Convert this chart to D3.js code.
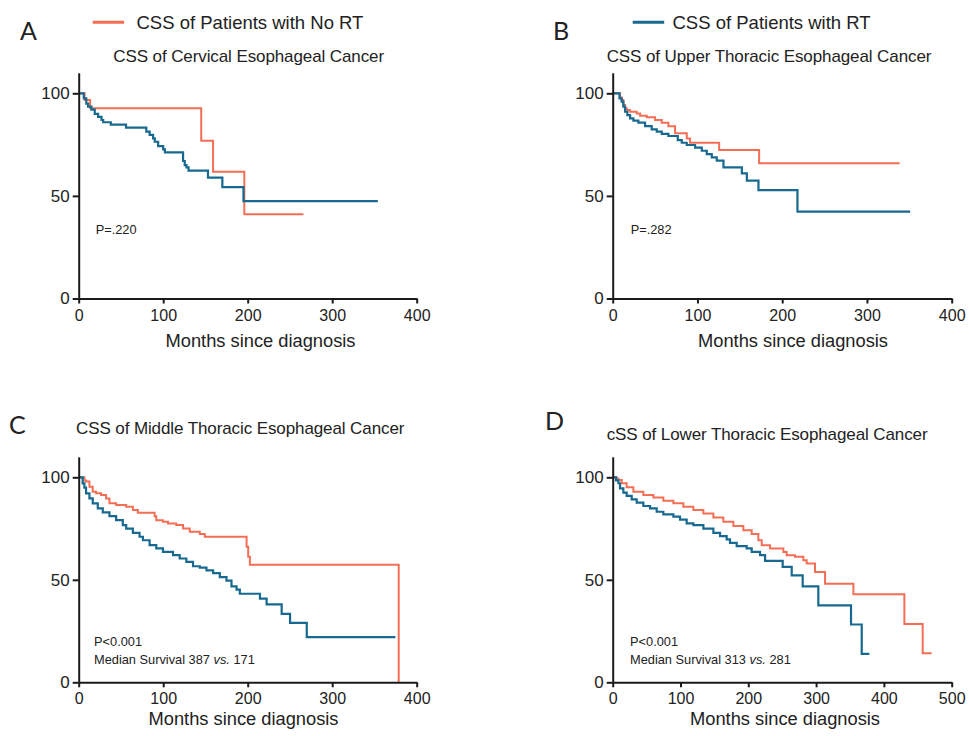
<!DOCTYPE html>
<html>
<head>
<meta charset="utf-8">
<script src="https://cdn.jsdelivr.net/npm/d3@7"></script>
<style>
  html, body { margin: 0; padding: 0; background: #fff; }
  svg { display: block; }
  text { font-family: "Liberation Sans", Arial, Helvetica, sans-serif; fill: #222; }
</style>
</head>
<body>
<svg id="chart" width="969" height="736"></svg>
<script>
// ---------------- DATA ----------------
const seriesNames = ["CSS of Patients with No RT", "CSS of Patients with RT"];
const panelLetters = ["A", "B", "C", "D"];
const panelTitles = [
  "CSS of Cervical Esophageal Cancer",
  "CSS of Upper Thoracic Esophageal Cancer",
  "CSS of Middle Thoracic Esophageal Cancer",
  "cSS of Lower Thoracic Esophageal Cancer"
];
const pValues = ["P=.220", "P=.282", "P<0.001", "P<0.001"];
const medianNoRT = [null, null, 387, 313];
const medianRT = [null, null, 171, 281];
const yTicks = [0, 50, 100];
const xTicksAC = [0, 100, 200, 300, 400];
const xTicksD = [0, 100, 200, 300, 400, 500];
const xLabel = "Months since diagnosis";

// Panel A
const aNoRtMonths = [0, 7, 13.5, 145, 159, 196, 266];
const aNoRtSurv   = [100, 96.7, 92.7, 76.9, 61.8, 41, 41];
const aRtMonths = [0, 6, 9, 11, 15, 19, 23, 27, 29, 38, 56, 80, 84, 88, 90, 94, 100, 102, 123.5, 125.5, 127.5, 130, 153, 170, 195, 354];
const aRtSurv   = [100, 97.5, 95, 93.5, 92, 90, 88.5, 87, 85.9, 84.7, 83.3, 81.3, 79.7, 78, 76.4, 74.3, 72.7, 71.2, 67, 65, 63.9, 62.3, 58.9, 54.3, 47.5, 47.5];

// Panel B
const bNoRtMonths = [0, 8.7, 10.6, 12.6, 14.6, 16.5, 20.5, 28.3, 32.3, 40.2, 50, 57.9, 65.7, 73.6, 87.4, 91.3, 125.6, 172.8, 338.6];
const bNoRtSurv   = [100, 98, 96.7, 94.3, 92.7, 91.9, 91, 90.2, 89, 88.3, 87, 85.7, 84, 80.5, 78, 75.9, 72.4, 65.9, 65.9];
const bRtMonths = [0, 8, 10.6, 12.6, 14.6, 17.3, 20.5, 24.4, 30.3, 38.2, 46, 52, 57.9, 65.7, 76.8, 81.5, 87.4, 97.2, 105.1, 111, 116.9, 122.8, 130.7, 152.4, 158.3, 172, 218, 351];
const bRtSurv   = [100, 97.5, 95.9, 93.5, 91, 89.4, 87.8, 86.7, 85.7, 84, 82.4, 81.3, 80.2, 79.2, 77.2, 75.9, 74.8, 73.5, 72, 70.4, 68.8, 67.2, 63.9, 61, 57.4, 52.8, 42.3, 42.3];

// Panel C
const cNoRtMonths = [0, 6.7, 8.7, 12.7, 16.6, 20.6, 26.5, 32.4, 36.4, 44.3, 56.2, 64.1, 70, 89.8, 91.8, 99.7, 105.7, 115.5, 123.5, 131.4, 143.3, 149.2, 198.7, 200.6, 202.6, 378.7, 378.7];
const cNoRtSurv   = [100, 98.5, 97.9, 95.4, 93, 92.2, 91.4, 89.7, 87.3, 86.5, 85.6, 84, 82.7, 81, 79.1, 78.3, 77.5, 76.7, 75, 73.4, 72.3, 71, 66.1, 61.2, 57.4, 57.4, 0];
const cRtMonths = [0, 4.7, 6.7, 8.7, 12.7, 16.6, 22.6, 28.5, 36.4, 44.3, 52.2, 56.2, 64.1, 72, 76, 83.9, 91.8, 99.7, 111.6, 119.5, 127.4, 135.3, 143.3, 151.2, 159.1, 167, 174.9, 180.8, 186.8, 190.7, 214.5, 222.4, 240.2, 250.1, 269.9, 374.8];
const cRtSurv   = [100, 97, 95, 92.2, 89.7, 87.3, 84.8, 82.9, 81.1, 79.1, 76.7, 75, 72.9, 71, 69.3, 66.9, 65.3, 63.6, 62, 60.4, 58.7, 56.6, 55.9, 54.6, 53.3, 51.3, 49.6, 46.8, 45.2, 43.2, 40.8, 38, 33.4, 29, 22, 22];

// Panel D
const dNoRtMonths = [0, 5.9, 8.4, 13.3, 20.6, 30.5, 45.2, 60, 74.7, 89.5, 104.2, 118.9, 133.7, 148.5, 163.2, 178, 192.7, 205, 214.8, 219.8, 232.1, 251.7, 256.6, 268.9, 281.2, 286.1, 298.4, 313.2, 355, 430.2, 457.2, 470.5];
const dNoRtSurv   = [100, 99.3, 98.7, 97.1, 95.1, 93, 91.4, 90.2, 88.6, 87.3, 85.6, 84, 82.4, 80.4, 78.3, 76.2, 74.2, 72.3, 69.3, 66.9, 65.3, 63.6, 62, 61.2, 59.5, 57.9, 53.8, 48.1, 42.9, 28.5, 14.2, 14.2];
const dRtMonths = [0, 4.9, 8.4, 10.8, 15.7, 20.6, 28, 35.4, 45.2, 55.1, 64.9, 74.7, 89.5, 99.3, 109.1, 119, 133.7, 148.5, 158.3, 168.1, 173, 182.9, 197.6, 205, 217.3, 224.7, 250.7, 264, 280.2, 303.3, 351.5, 367.3, 378.6];
const dRtSurv   = [100, 98.5, 97.1, 94.6, 92.5, 90.9, 89.2, 87.6, 86, 84.8, 83.2, 81.9, 80.8, 79.4, 77.5, 76.7, 75, 72.9, 71.3, 69.7, 68, 66.4, 65.3, 63.6, 62, 59.2, 56.3, 52.2, 46.8, 37.5, 28.2, 13.9, 13.9];

// ---------------- LAYOUT / STYLE ----------------
const RED = "#F36E55", BLUE = "#17698F";
const zip = (m, s) => m.map((t, i) => ({ t, s: s[i] }));

const panels = [
  { letter: panelLetters[0], title: panelTitles[0], p: pValues[0], mNo: medianNoRT[0], mRt: medianRT[0],
    noRt: zip(aNoRtMonths, aNoRtSurv), rt: zip(aRtMonths, aRtSurv),
    xMax: 400, xTicks: xTicksAC, x0: 78.7, x1: 416.7, yTop: 93.3, yBot: 298.5, tickPad: 6.5,
    letterPos: [20, 39.5], titlePos: [113.3, 61.7], xLabelPos: [260.5, 347], pPos: [95.7, 234] },
  { letter: panelLetters[1], title: panelTitles[1], p: pValues[1], mNo: medianNoRT[1], mRt: medianRT[1],
    noRt: zip(bNoRtMonths, bNoRtSurv), rt: zip(bRtMonths, bRtSurv),
    xMax: 400, xTicks: xTicksAC, x0: 612.7, x1: 951.7, yTop: 93.3, yBot: 298.5, tickPad: 6.5,
    letterPos: [553, 39.5], titlePos: [606.7, 61.7], xLabelPos: [793, 347], pPos: [630.7, 234] },
  { letter: panelLetters[2], title: panelTitles[2], p: pValues[2], mNo: medianNoRT[2], mRt: medianRT[2],
    noRt: zip(cNoRtMonths, cNoRtSurv), rt: zip(cRtMonths, cRtSurv),
    xMax: 400, xTicks: xTicksAC, x0: 78.7, x1: 416.7, yTop: 477.3, yBot: 682.3, tickPad: 5.5,
    letterPos: [9, 433.5], titlePos: [76, 434], xLabelPos: [243.5, 724.5], pPos: [94, 645.7] },
  { letter: panelLetters[3], title: panelTitles[3], p: pValues[3], mNo: medianNoRT[3], mRt: medianRT[3],
    noRt: zip(dNoRtMonths, dNoRtSurv), rt: zip(dRtMonths, dRtSurv),
    xMax: 500, xTicks: xTicksD, x0: 612.7, x1: 951.7, yTop: 477.3, yBot: 682.3, tickPad: 5.5,
    letterPos: [545, 429.5], titlePos: [606.7, 440], xLabelPos: [785, 724.5], pPos: [630, 645.7] }
];

const svg = d3.select("#chart");

// Legend
const legend = [
  { name: seriesNames[0], color: RED, lx: 92.7, tx: 136.5 },
  { name: seriesNames[1], color: BLUE, lx: 632.7, tx: 672.5 }
];
legend.forEach(l => {
  svg.append("line").attr("x1", l.lx).attr("x2", l.lx + 31.5).attr("y1", 22.3).attr("y2", 22.3)
    .attr("stroke", l.color).attr("stroke-width", 3);
  svg.append("text").attr("x", l.tx).attr("y", 29.3).attr("font-size", 18.5).text(l.name);
});

panels.forEach(pn => {
  const g = svg.append("g");
  const x = d3.scaleLinear().domain([0, pn.xMax]).range([pn.x0, pn.x1]);
  const yUnit = (pn.yBot - pn.yTop) / 100;
  const y = d3.scaleLinear().domain([0, 110]).range([pn.yBot, pn.yBot - 110 * yUnit]);

  // panel letter
  g.append("text").attr("x", pn.letterPos[0]).attr("y", pn.letterPos[1])
    .style("font-family", "Lato, 'Open Sans', sans-serif").attr("font-size", 25).text(pn.letter);
  // title
  g.append("text").attr("x", pn.titlePos[0]).attr("y", pn.titlePos[1])
    .attr("font-size", 17).attr("letter-spacing", -0.1).text(pn.title);

  // curves
  const line = d3.line().x(d => x(d.t)).y(d => y(d.s)).curve(d3.curveStepAfter);
  g.append("path").datum(pn.noRt).attr("d", line).attr("fill", "none")
    .attr("stroke", RED).attr("stroke-width", 2);
  g.append("path").datum(pn.rt).attr("d", line).attr("fill", "none")
    .attr("stroke", BLUE).attr("stroke-width", 2.2);

  // axes
  const yAxis = d3.axisLeft(y).tickValues(yTicks).tickSize(6).tickSizeOuter(0).tickPadding(3);
  const ya = g.append("g").attr("transform", `translate(${pn.x0},0)`).call(yAxis);
  const xAxis = d3.axisBottom(x).tickValues(pn.xTicks).tickSize(5).tickSizeOuter(0).tickPadding(pn.tickPad);
  const xa = g.append("g").attr("transform", `translate(0,${pn.yBot})`).call(xAxis);
  [ya, xa].forEach(a => {
    a.select(".domain").attr("stroke", "#1a1a1a").attr("stroke-width", 2);
    a.selectAll(".tick line").attr("stroke", "#1a1a1a").attr("stroke-width", 2);
    a.selectAll(".tick text").attr("fill", "#222")
      .style("font-family", "'Liberation Sans', Arial, sans-serif");
  });
  ya.selectAll(".tick text").attr("font-size", 17);
  xa.selectAll(".tick text").attr("font-size", 16);

  // axis label
  g.append("text").attr("x", pn.xLabelPos[0]).attr("y", pn.xLabelPos[1])
    .attr("text-anchor", "middle").attr("font-size", 18.3).text(xLabel);

  // annotations
  g.append("text").attr("x", pn.pPos[0]).attr("y", pn.pPos[1]).attr("font-size", 12.8).text(pn.p);
  if (pn.mNo != null) {
    const t = g.append("text").attr("x", pn.pPos[0]).attr("y", pn.pPos[1] + 18.6).attr("font-size", 12.8);
    t.append("tspan").text(`Median Survival ${pn.mNo} `);
    t.append("tspan").attr("font-style", "italic").text("vs.");
    t.append("tspan").text(` ${pn.mRt}`);
  }
});
</script>
</body>
</html>
